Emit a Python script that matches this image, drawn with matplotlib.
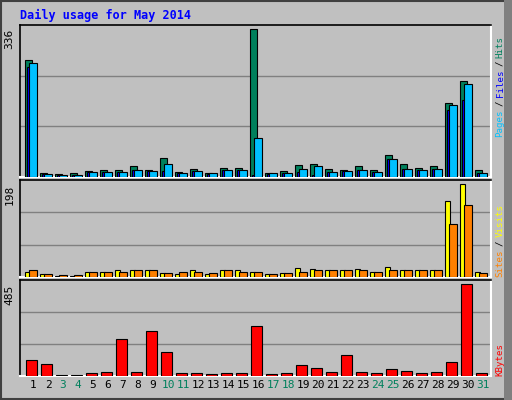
import matplotlib
matplotlib.use("Agg")
import matplotlib.pyplot as plt
from matplotlib.patches import Rectangle

days = list(range(1, 32))
hits  = [265,9,7,9,14,17,17,24,17,44,12,19,10,21,21,336,8,14,28,30,19,17,24,17,49,30,21,26,168,218,17]
files = [250,6,4,4,11,11,11,15,13,14,9,13,7,15,15,5,7,9,12,5,11,13,15,11,40,18,15,18,152,175,9]
pages = [258,7,5,5,12,12,12,17,14,30,10,14,8,17,17,89,8,10,19,24,12,14,17,12,42,19,17,19,163,211,10]
visits = [11,7,2,2,11,11,14,16,14,9,7,14,7,16,16,11,7,9,20,18,14,14,18,11,22,14,16,16,162,198,11]
sites  = [16,6,5,5,11,11,11,16,14,9,11,11,9,16,11,11,7,9,11,16,14,14,14,11,14,16,16,14,113,153,9]
kbytes = [83,62,7,7,14,19,195,19,237,126,14,14,9,14,14,264,9,14,57,41,19,110,19,14,35,25,14,19,73,485,14]
max_top, max_mid, max_bot = 336, 198, 485
weekend = {3,4,10,11,17,18,24,25,31}

BG = "#C0C0C0"
fig = plt.figure(figsize=(5.12, 4.0), dpi=100, facecolor=BG)
fig.patches.append(Rectangle((0.002, 0.003), 0.992, 0.994, transform=fig.transFigure,
                             fill=False, edgecolor="#404040", lw=1.5))
fig.patches.append(Rectangle((0.985, 0.0), 0.015, 1.0, transform=fig.transFigure,
                             facecolor="#808080", edgecolor="none"))
fig.text(20/512, 1-15/400, "Daily usage for May 2014", color="#0000FF", fontsize=8.5,
         fontweight="bold", family="DejaVu Sans Mono", va="center", ha="left")

L, R = 20/512, 491/512
panels = [(25, 177), (180, 277), (280, 376)]
axes = []
for top, bot in panels:
    ax = fig.add_axes([L, 1-bot/400, R-L, (bot-top)/400])
    ax.set_facecolor(BG)
    ax.set_xlim(0.133, 31.53)
    for s in ["top", "left"]:
        ax.spines[s].set_color("black"); ax.spines[s].set_linewidth(1.2)
    for s in ["bottom", "right"]:
        ax.spines[s].set_color("white"); ax.spines[s].set_linewidth(1.5)
    ax.set_xticks([]); ax.set_yticks([])
    axes.append(ax)

def bars(ax, vals, off0, off1, color, z):
    x = [d + off0 for d in days]
    ax.bar(x, vals, width=off1-off0, align="edge", color=color, edgecolor="black", lw=0.8, zorder=z)

def grid(ax, ymax):
    ax.set_ylim(0, ymax)
    for f in (1/3, 2/3):
        ax.axhline(ymax*f, color="#808080", lw=1, zorder=1)

a1, a2, a3 = axes
grid(a1, max_top*151/147)
bars(a1, hits, -0.53, -0.07, "#00805C", 3)
bars(a1, files, -0.42, 0.0, "#0000FF", 4)
bars(a1, pages, -0.27, 0.25, "#00C0FF", 5)
grid(a2, max_mid*289/276)
bars(a2, visits, -0.53, -0.2, "#FFFF00", 3)
bars(a2, sites, -0.27, 0.25, "#FF8000", 4)
grid(a3, max_bot*287/274)
bars(a3, kbytes, -0.47, 0.25, "#FF0000", 3)

for ax, m in zip(axes, (max_top, max_mid, max_bot)):
    ax.text(-0.012, m, str(m), transform=ax.get_yaxis_transform(), rotation=90,
            ha="right", va="top", fontsize=8, family="DejaVu Sans Mono")

for d in days:
    a3.text(d, -0.04, str(d), transform=a3.get_xaxis_transform(), ha="center", va="top",
            fontsize=8, family="DejaVu Sans Mono",
            color="#00805C" if d in weekend else "black")

def vlabel(parts, y_bottom_px):
    y = y_bottom_px
    cw = 5.6
    for txt, col in parts:
        if txt != "/":
            fig.text(500/512, 1-y/400, txt, rotation=90, color=col, fontsize=6.6,
                     family="DejaVu Sans Mono", ha="center", va="bottom")
            y -= cw*len(txt)
        else:
            y -= 3
            fig.text(500/512, 1-y/400, txt, rotation=90, color=col, fontsize=6.6,
                     family="DejaVu Sans Mono", ha="center", va="bottom")
            y -= cw + 3

vlabel([("Pages", "#00C0FF"), ("/", "black"), ("Files", "#0000FF"), ("/", "black"), ("Hits", "#00805C")], 137)
vlabel([("Sites", "#FF8000"), ("/", "black"), ("Visits", "#FFFF00")], 277)
vlabel([("KBytes", "#FF0000")], 376)

fig.savefig("out.png", dpi=100, facecolor=BG)
